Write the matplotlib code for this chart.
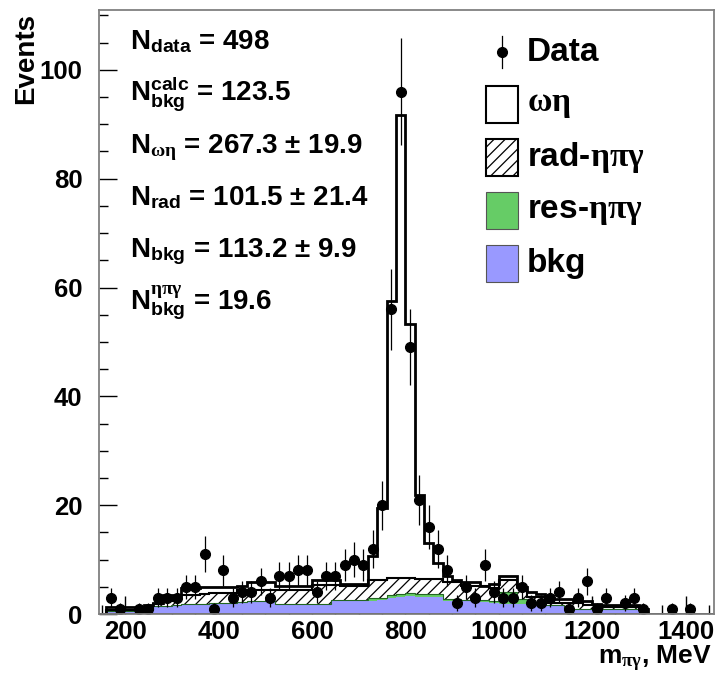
import numpy as np
import matplotlib
matplotlib.use('Agg')
import matplotlib.pyplot as plt
from matplotlib.patches import Rectangle
from matplotlib.ticker import MultipleLocator

plt.rcParams['font.family'] = 'Liberation Sans'
plt.rcParams['font.weight'] = 'bold'
plt.rcParams['mathtext.fontset'] = 'custom'
plt.rcParams['mathtext.rm'] = 'Liberation Sans:bold'
plt.rcParams['mathtext.bf'] = 'Liberation Sans:bold'
plt.rcParams['mathtext.it'] = 'Liberation Serif'
plt.rcParams['hatch.linewidth'] = 0.9

# fit components, 20 MeV bins from 160 to 1320 MeV
edges = np.arange(160, 1340, 20)
bkg = [0.6, 0.6, 0.6, 0.6, 0.8, 1.5, 1.5, 1.6, 1.8, 1.8,
       1.9, 2.1, 2.1, 2.1, 2.2, 2.3, 2.3, 2.3, 1.8, 1.8,
       1.8, 1.8, 1.8, 1.8, 2.5, 2.3, 2.3, 2.3, 2.4, 2.5,
       2.9, 3.2, 3.3, 3.2, 3.2, 3.1, 2.4, 2.3, 2.3, 2.2,
       2.2, 2.1, 1.9, 1.9, 1.8, 1.7, 1.7, 1.7, 1.7, 1.1,
       1.0, 1.0, 1.0, 0.9, 0.9, 0.9, 0.9, 0.8]
res = [0, 0, 0, 0, 0, 0, 0, 0, 0, 0,
       0, 0, 0, 0, 0, 0, 0, 0, 0, 0,
       0, 0, 0, 0, 0, 0.3, 0.3, 0.3, 0.5, 0.5,
       0.5, 0.5, 0.5, 0.5, 0.5, 0.5, 0.4, 0.4, 0.3, 0.3,
       0.3, 0.3, 2.1, 2.1, 0.9, 0.2, 0, 0, 0, 0,
       0, 0, 0, 0, 0, 0, 0, 0]
rad = [0.1, 0.1, 0.1, 0.1, 0.2, 0.3, 0.8, 1.0, 1.7, 1.7,
       1.7, 1.7, 1.7, 1.7, 2.2, 2.1, 2.1, 2.1, 2.7, 2.7,
       2.7, 2.7, 3.5, 3.5, 2.8, 2.5, 2.5, 2.5, 3.3, 3.2,
       3.3, 3.0, 2.9, 2.7, 2.7, 2.8, 3.1, 3.2, 2.5, 2.6,
       2.6, 2.3, 2.2, 2.2, 2.2, 1.3, 1.5, 0.4, 0.4, 1.0,
       1.1, 0.7, 0.7, 0.45, 0.45, 0.45, 0.45, 0.2]
omega_eta = [0.5, 0.5, 0.5, 0.5, 0.65, 0.2, 1.1, 0.8, 1.2, 1.2,
             1.3, 1.1, 1.1, 1.1, 0.7, 1.4, 1.4, 1.4, 0.6, 0.6,
             0.6, 0.6, 0.95, 0.95, 0.95, 0.5, 0.5, 0.5, 4.5, 13.3,
             50.8, 85.0, 46.6, 15.5, 6.7, 2.9, 1.0, 0.35, 0.8, 0.8,
             0.1, 0.8, 0.7, 0.7, 0.1, 0.9, 0.5, 0.7, 0.7, 0.7,
             0.35, 0.75, 0.15, 0.25, 0.25, 0.25, 0.25, 0.0]

# measured spectrum, bin centres 170 ... 1410 MeV
data_mass = np.arange(170, 1420, 20)
data_counts = [3, 1, 0, 1, 1, 3, 3, 3, 5, 5, 11, 1, 8, 3, 4, 4, 6, 3, 7, 7,
               8, 8, 4, 7, 7, 9, 10, 9, 12, 20, 56, 96, 49, 21, 16, 12, 8, 2,
               5, 3, 9, 4, 3, 3, 5, 2, 2, 3, 4, 1, 3, 6, 1, 3, 0, 2, 3, 1,
               0, 0, 1, 0, 1]

labels = [r'N$_{\rm data}$ = 498',
          r'N$^{\rm calc}_{\rm bkg}$ = 123.5',
          r'N$_{\omega\eta}$ = 267.3 $\pm$ 19.9',
          r'N$_{\rm rad}$ = 101.5 $\pm$ 21.4',
          r'N$_{\rm bkg}$ = 113.2 $\pm$ 9.9',
          r'N$^{\eta\pi\gamma}_{\rm bkg}$ = 19.6']

c_bkg = np.array(bkg)
c_res = c_bkg + np.array(res)
c_rad = c_res + np.array(rad)
c_tot = c_rad + np.array(omega_eta)

fig = plt.figure(figsize=(7.2, 6.76), dpi=100)
ax = fig.add_axes([99 / 720, 62 / 676, 615 / 720, 604 / 676])

ax.stairs(c_tot, edges, fill=True, color='white', zorder=1)
ax.stairs(c_rad, edges, fill=True, facecolor='white', edgecolor='black',
          hatch='///', linewidth=0, zorder=2)
ax.stairs(c_res, edges, fill=True, color='#66cc66', zorder=3)
ax.stairs(c_bkg, edges, fill=True, color='#9999ff', zorder=4)
ax.stairs(c_res, edges, color='#226622', linewidth=0.8, zorder=5)
ax.stairs(c_rad, edges, color='black', linewidth=1.5, zorder=6)
ax.stairs(c_tot, edges, color='black', linewidth=2, zorder=7)
ax.axhline(0, color='black', linewidth=2, zorder=7)

counts = np.array(data_counts)
sel = counts > 0
ax.errorbar(data_mass[sel], counts[sel], yerr=np.sqrt(counts[sel]), fmt='o',
            color='black', ms=7, elinewidth=0.9, capsize=0, zorder=10)

ax.set_xlim(144, 1461)
ax.set_ylim(0, 111)
ax.xaxis.set_major_locator(MultipleLocator(200))
ax.xaxis.set_minor_locator(MultipleLocator(50))
ax.yaxis.set_major_locator(MultipleLocator(20))
ax.yaxis.set_minor_locator(MultipleLocator(5))
ax.tick_params(which='both', direction='in', top=False, right=False,
               labelsize=18.5, width=1)
ax.tick_params(which='major', length=13)
ax.tick_params(which='minor', length=6.5)
ax.tick_params(axis='y', pad=12)
ax.tick_params(axis='x', pad=4)
for s in ax.spines.values():
    s.set_color('#808080')
    s.set_linewidth(1.3)
    s.set_zorder(20)

ax.text(-0.098, 0.995, 'Events', rotation=90, ha='right', va='top',
        fontsize=20, transform=ax.transAxes)
ax.text(0.997, (614 - 664) / 604, r'm$_{\pi\gamma}$, MeV', ha='right',
        va='baseline', fontsize=19, transform=ax.transAxes)

# fit results
for i, t in enumerate(labels):
    yb = 614 - (49 + 52 * i)
    ax.text((130 - 99) / 615, yb / 604, t, fontsize=20, va='baseline',
            transform=ax.transAxes)

# legend
tr = ax.transAxes
ax.plot([0.655, 0.655], [0.904, 0.957], color='black', lw=0.9,
        transform=tr, clip_on=False)
ax.plot([0.655], [0.930], 'o', color='black', ms=7, transform=tr)
ax.text(0.696, 0.930, 'Data', fontsize=24, va='center', transform=tr)
boxes = [('white', None, r'$\omega\eta$', 0.813),
         ('white', '///', r'rad-$\eta\pi\gamma$', 0.725),
         ('#66cc66', None, r'res-$\eta\pi\gamma$', 0.637),
         ('#9999ff', None, 'bkg', 0.550)]
for fc, hatch, name, y0 in boxes:
    ax.add_patch(Rectangle((0.629, y0), 0.052, 0.061, facecolor=fc,
                           edgecolor='black' if fc == 'white' else '#555555',
                           hatch=hatch, lw=1.5 if fc == 'white' else 0.8,
                           transform=tr, zorder=15))
    ax.text(0.696, y0 + 0.030, name, fontsize=24, va='center', transform=tr)

fig.savefig('out.png', dpi=100)
